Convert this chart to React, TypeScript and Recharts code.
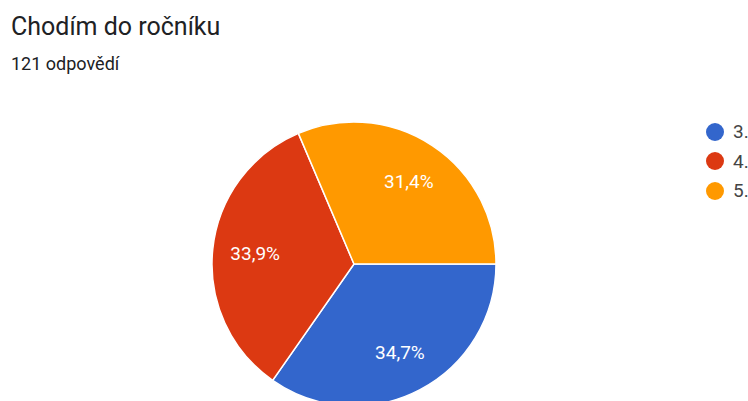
import React from 'react';
import { PieChart, Pie, Cell, Legend } from 'recharts';

const categories = ['3.', '4.', '5.'];
const counts = [42, 41, 38];
const colors = ['#3366cc', '#dc3912', '#ff9900'];

const data = categories.map((name, i) => ({ name, value: counts[i] }));
const total = counts.reduce((a, b) => a + b, 0);

const RADIAN = Math.PI / 180;
const FONT = 'Roboto, Arial, sans-serif';

const renderLabel = (props: any) => {
    const { cx, cy, midAngle, outerRadius, percent } = props;
    const r = outerRadius * 0.7;
    const x = cx + r * Math.cos(-midAngle * RADIAN);
    const y = cy + r * Math.sin(-midAngle * RADIAN);
    return (
        <text
            x={x}
            y={y}
            fill="#ffffff"
            textAnchor="middle"
            dominantBaseline="central"
            fontSize={19}
            fontFamily={FONT}
        >
            {(percent * 100).toFixed(1).replace('.', ',')}%
        </text>
    );
};

const renderLegend = () => (
    <div style={{ fontFamily: FONT }}>
        {data.map((d, i) => (
            <div key={d.name} style={{ display: 'flex', alignItems: 'center', height: 29.5 }}>
                <span
                    style={{
                        width: 18,
                        height: 18,
                        borderRadius: '50%',
                        background: colors[i],
                        display: 'inline-block',
                        marginRight: 9,
                    }}
                />
                <span style={{ fontSize: 19, color: '#444' }}>{d.name}</span>
            </div>
        ))}
    </div>
);

export default function App() {
    return (
        <div style={{ position: 'relative', width: 748, height: 401, overflow: 'hidden', background: '#fff' }}>
            <style>{'body{margin:0}'}</style>
            {/* heading */}
            <div
                style={{
                    position: 'absolute',
                    left: 11,
                    top: 12,
                    fontFamily: FONT,
                    fontSize: 25,
                    color: '#202124',
                    lineHeight: '30px',
                    whiteSpace: 'nowrap',
                }}
            >
                Chodím do ročníku
            </div>
            <div
                style={{
                    position: 'absolute',
                    left: 11,
                    top: 53,
                    fontFamily: FONT,
                    fontSize: 18,
                    color: '#202124',
                    lineHeight: '22px',
                    whiteSpace: 'nowrap',
                }}
            >
                {total} odpovědí
            </div>
            <div style={{ position: 'absolute', left: 0, top: 0 }}>
                <PieChart width={748} height={401} margin={{ top: 0, right: 0, bottom: 0, left: 0 }}>
                    <Pie
                        data={data}
                        dataKey="value"
                        nameKey="name"
                        cx={354}
                        cy={264}
                        outerRadius={142}
                        startAngle={0}
                        endAngle={-360}
                        stroke="#ffffff"
                        strokeWidth={1.5}
                        label={renderLabel}
                        labelLine={false}
                        isAnimationActive={false}
                    >
                        {data.map((d, i) => (
                            <Cell key={d.name} fill={colors[i]} />
                        ))}
                    </Pie>
                    <Legend
                        layout="vertical"
                        verticalAlign="top"
                        align="right"
                        content={renderLegend}
                        wrapperStyle={{ top: 117, left: 706, width: 60 }}
                    />
                </PieChart>
            </div>
        </div>
    );
}
